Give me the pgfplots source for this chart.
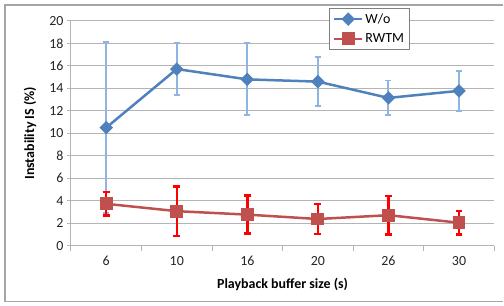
\documentclass[border=0pt]{standalone}
\usepackage{fontspec}
\setmainfont{Carlito}
\usepackage{pgfplots}
\pgfplotsset{compat=1.18}
\definecolor{wblue}{HTML}{4F81BD}
\definecolor{wbluel}{HTML}{8DB4E2}
\definecolor{rred}{HTML}{C0504D}
\definecolor{gridc}{HTML}{B4B4B4}
\definecolor{framec}{HTML}{A6A6A6}
\begin{document}
\begin{tikzpicture}
\begin{axis}[
  scale only axis, width=424bp, height=225bp,
  xmin=-0.5, xmax=5.5, ymin=0, ymax=20,
  xtick={0,...,5}, xticklabels={6,10,16,20,26,30},
  minor xtick={-0.5,0.5,...,5.5},
  ytick={0,2,...,20},
  axis x line*=bottom, axis y line*=left,
  axis line style={gridc, line width=1bp},
  tick align=outside,
  major x tick style={draw=none},
  minor x tick style={gridc, line width=1bp},
  major y tick style={gridc, line width=1bp},
  minor tick length=5bp, major tick length=4bp,
  ymajorgrids, major grid style={gridc, line width=1bp},
  /pgf/number format/assume math mode=true,
  tick label style={font=\fontsize{14}{16}\selectfont, color=black!85},
  xticklabel style={yshift=-3bp},
  ylabel={\textbf{Instability IS (\%)}},
  xlabel={\textbf{Playback buffer size (s)}},
  label style={font=\fontsize{14}{16}\selectfont, color=black},
  xlabel style={at={(axis description cs:0.5,-0.173)}, anchor=center},
  ylabel style={at={(axis description cs:-0.0967,0.5)}, anchor=center},
  legend style={at={(axis description cs:0.6085,1.0578)}, anchor=north west,
    draw=gray, fill=white, font=\fontsize{14}{16}\selectfont,
    row sep=5bp, inner xsep=4bp, inner ysep=3bp, line width=1bp},
  legend cell align=left,
  legend image code/.code={\draw[mark repeat=2,mark phase=2] plot coordinates {(0bp,0bp) (14bp,0bp) (28bp,0bp)};},
  clip=false,
]
\path (axis description cs:-0.1675,1.0933) rectangle (axis description cs:1.0212,-0.2667);
\draw[framec, line width=1.5bp]
  (axis description cs:1.0212,1.0711) -- (axis description cs:-0.1557,1.0711)
  -- (axis description cs:-0.1557,-0.2489) -- (axis description cs:1.0212,-0.2489);
\addplot[wblue, line width=2.5bp, mark=diamond*, mark size=5bp,
  mark options={solid, fill=wblue, xscale=1.333},
  error bars/.cd, y dir=both, y explicit,
  error bar style={wbluel, line width=2bp},
  error mark options={wbluel, rotate=90, mark size=3bp, line width=2bp}]
  coordinates {
  (0,10.5) +- (0,7.6)
  (1,15.72) +- (0,2.32)
  (2,14.8) +- (0,3.2)
  (3,14.6) +- (0,2.2)
  (4,13.15) +- (0,1.55)
  (5,13.78) +- (0,1.78)
  };
\addlegendentry{W/o}
\addplot[rred, line width=2.5bp, mark=square*, mark size=5.2bp,
  mark options={solid, fill=rred},
  error bars/.cd, y dir=both, y explicit,
  error bar style={red, line width=2.5bp},
  error mark options={red, rotate=90, mark size=3.5bp, line width=2.5bp}]
  coordinates {
  (0,3.72) +- (0,1.05)
  (1,3.07) +- (0,2.2)
  (2,2.76) +- (0,1.7)
  (3,2.37) +- (0,1.33)
  (4,2.71) +- (0,1.73)
  (5,2.04) +- (0,1.06)
  };
\addlegendentry{RWTM}
\end{axis}
\end{tikzpicture}
\end{document}
